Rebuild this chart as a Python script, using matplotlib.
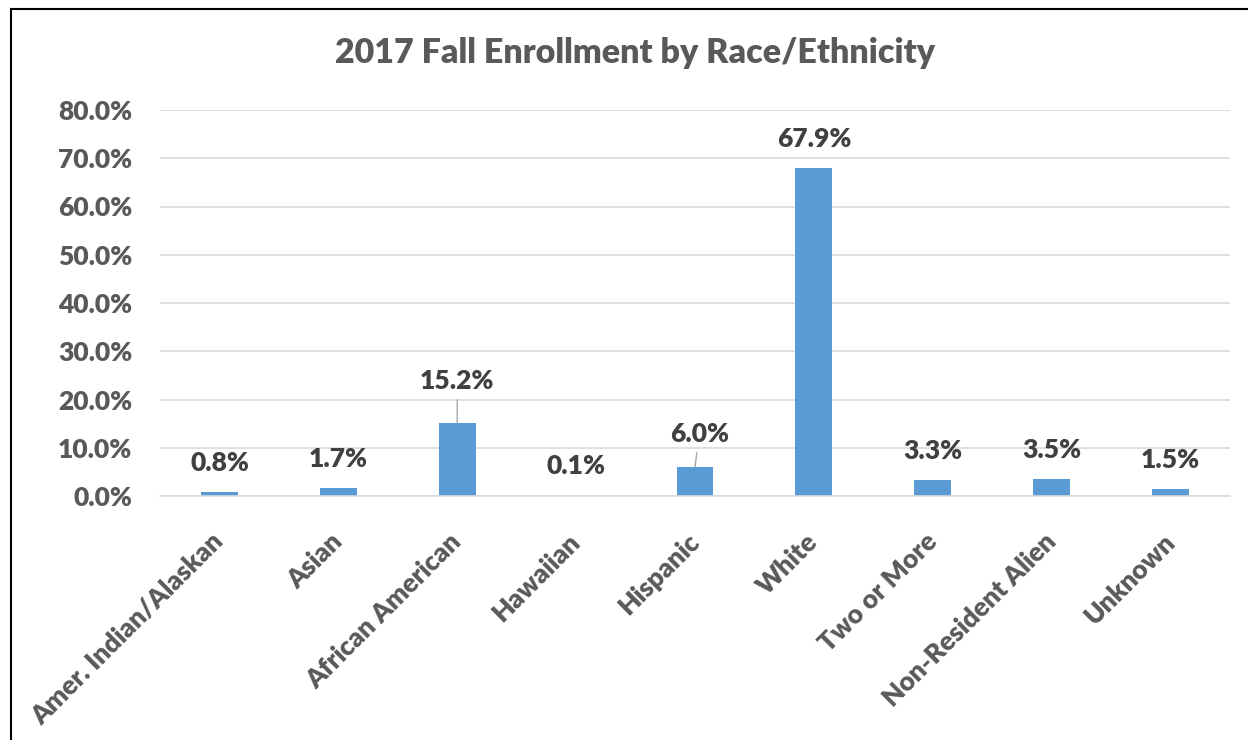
import numpy as np
import matplotlib.pyplot as plt
from matplotlib.lines import Line2D
from matplotlib.ticker import FuncFormatter

plt.rcParams['font.family'] = ['Lato', 'DejaVu Sans']

categories = ["Amer. Indian/Alaskan", "Asian", "African American", "Hawaiian",
              "Hispanic", "White", "Two or More", "Non-Resident Alien", "Unknown"]
values = [0.8, 1.7, 15.2, 0.1, 6.0, 67.9, 3.3, 3.5, 1.5]
y_ticks = [0, 10, 20, 30, 40, 50, 60, 70, 80]

# label offsets in points (dx, dy); labels with leader lines get moved further up
label_offsets = {2: (0, 30), 4: (3, 24)}
default_offset = (0, 21)

BAR_COLOR = "#5B9BD5"
TEXT_GRAY = "#595959"
LABEL_GRAY = "#404040"
GRID_GRAY = "#D9D9D9"
FS = 19
WEIGHT = 'heavy'

fig = plt.figure(figsize=(12.48, 7.40), dpi=100)
ax = fig.add_axes([160 / 1248, 1 - 496 / 740, 1070 / 1248, 386 / 740])

x = np.arange(len(categories))
ax.bar(x, values, width=0.31, color=BAR_COLOR, zorder=3)

ax.set_xlim(-0.5, len(categories) - 0.5)
ax.set_ylim(0, 80)
ax.set_yticks(y_ticks)
ax.yaxis.set_major_formatter(FuncFormatter(lambda v, p: f"{v:.1f}%"))
ax.grid(axis='y', color=GRID_GRAY, linewidth=1.2, zorder=0)
ax.set_axisbelow(True)

for s in ['top', 'right', 'left']:
    ax.spines[s].set_visible(False)
ax.spines['bottom'].set_color(GRID_GRAY)
ax.spines['bottom'].set_linewidth(1.2)
ax.spines['bottom'].set_zorder(4)

ax.tick_params(axis='y', length=0, pad=20, labelsize=FS, labelcolor=TEXT_GRAY)
ax.tick_params(axis='x', length=0, pad=30, labelsize=FS, labelcolor=TEXT_GRAY)
for lab in ax.get_yticklabels():
    lab.set_fontweight(WEIGHT)
ax.set_xticks(x)
ax.set_xticklabels(categories, rotation=45, ha='right', va='center',
                   rotation_mode='anchor', fontweight=WEIGHT)

for i, v in enumerate(values):
    dx, dy = label_offsets.get(i, default_offset)
    arrow = None
    if i in label_offsets:
        arrow = dict(arrowstyle='-', color='#A6A6A6', lw=1.0, shrinkA=3, shrinkB=0)
    ax.annotate(f"{v:.1f}%", xy=(i, v), xytext=(dx, dy), textcoords='offset points',
                ha='center', va='center', fontsize=FS, fontweight=WEIGHT,
                color=LABEL_GRAY, arrowprops=arrow, zorder=5)

fig.text(635 / 1248, 1 - 53 / 740, "2017 Fall Enrollment by Race/Ethnicity",
         ha='center', va='center', fontsize=24.5, fontweight=WEIGHT, color=TEXT_GRAY)

# outer frame (left and top edges)
fig.add_artist(Line2D([11 / 1248, 11 / 1248], [0, 1 - 9 / 740], color='black', lw=1.5))
fig.add_artist(Line2D([11 / 1248, 1], [1 - 9 / 740, 1 - 9 / 740], color='black', lw=1.5))

fig.savefig("out.png", dpi=100)
